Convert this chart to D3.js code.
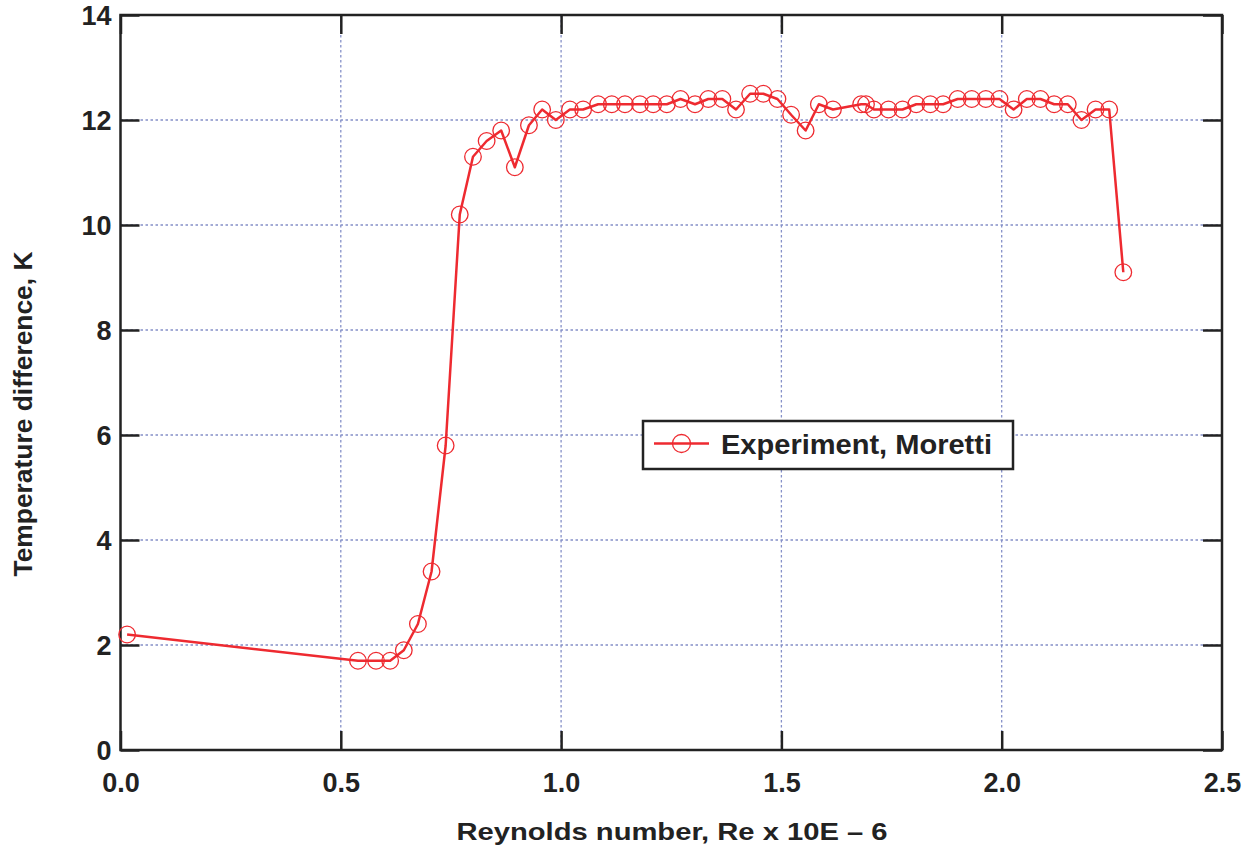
<!DOCTYPE html>
<html>
<head>
<meta charset="utf-8">
<script src="https://cdn.jsdelivr.net/npm/d3@7"></script>
<style>
  body { margin: 0; background: #fff; }
  text { font-family: "Liberation Sans", Arial, sans-serif; font-weight: bold; fill: #222; }
</style>
</head>
<body>
<div id="chart"></div>
<script>
// Reynolds number (x 10E-6) and measured temperature difference (K)
const reynolds = [0.015, 0.539, 0.580, 0.612, 0.643, 0.675, 0.706, 0.738, 0.770, 0.800,
  0.831, 0.864, 0.895, 0.927, 0.957, 0.988, 1.020, 1.050, 1.084, 1.115,
  1.145, 1.179, 1.209, 1.240, 1.271, 1.304, 1.334, 1.366, 1.397, 1.429,
  1.459, 1.491, 1.522, 1.555, 1.585, 1.617, 1.681, 1.692, 1.710, 1.743,
  1.775, 1.806, 1.838, 1.867, 1.900, 1.932, 1.964, 1.995, 2.027, 2.057,
  2.088, 2.119, 2.150, 2.181, 2.213, 2.244, 2.276];
const tempDiff = [2.2, 1.7, 1.7, 1.7, 1.9, 2.4, 3.4, 5.8, 10.2, 11.3,
  11.6, 11.8, 11.1, 11.9, 12.2, 12.0, 12.2, 12.2, 12.3, 12.3,
  12.3, 12.3, 12.3, 12.3, 12.4, 12.3, 12.4, 12.4, 12.2, 12.5,
  12.5, 12.4, 12.1, 11.8, 12.3, 12.2, 12.3, 12.3, 12.2, 12.2,
  12.2, 12.3, 12.3, 12.3, 12.4, 12.4, 12.4, 12.4, 12.2, 12.4,
  12.4, 12.3, 12.3, 12.0, 12.2, 12.2, 9.1];
const xTicks = [0, 0.5, 1.0, 1.5, 2.0, 2.5];
const yTicks = [0, 2, 4, 6, 8, 10, 12, 14];
const seriesName = "Experiment, Moretti";

const width = 1257, height = 857;
const margin = {left: 120.5, right: 35, top: 15, bottom: 107};
const red = "#ee2a30";

const svg = d3.select("#chart").append("svg")
  .attr("width", width)
  .attr("height", height);

const x = d3.scaleLinear().domain([0, 2.5]).range([margin.left, width - margin.right]);
const y = d3.scaleLinear().domain([0, 14]).range([height - margin.bottom, margin.top]);

const x0 = x.range()[0], x1 = x.range()[1], y0 = y.range()[0], y1 = y.range()[1];

// dotted grid
const grid = svg.append("g")
  .attr("stroke", "#8590c8")
  .attr("stroke-width", 1.3)
  .attr("stroke-dasharray", "2.5,2.5");
grid.selectAll(".gx").data(xTicks.slice(1, -1)).enter().append("line")
  .attr("x1", d => x(d)).attr("x2", d => x(d))
  .attr("y1", y1).attr("y2", y0);
grid.selectAll(".gy").data(yTicks.slice(1, -1)).enter().append("line")
  .attr("y1", d => y(d)).attr("y2", d => y(d))
  .attr("x1", x0).attr("x2", x1);

// frame + inward ticks
const tickLen = 19;
const axisColor = "#222";
svg.append("g")
  .attr("transform", `translate(0,${y0})`)
  .call(d3.axisBottom(x).tickValues(xTicks).tickSizeInner(-tickLen).tickSizeOuter(0)
    .tickFormat(d3.format(".1f")))
  .call(g => {
    g.select(".domain").remove();
    g.selectAll(".tick line").attr("stroke", axisColor).attr("stroke-width", 2.5);
    g.selectAll(".tick text").attr("font-size", 27).attr("dy", null).attr("y", 42)
      .attr("fill", axisColor);
  });
svg.append("g")
  .attr("transform", `translate(0,${y1})`)
  .call(d3.axisTop(x).tickValues(xTicks).tickSizeInner(-tickLen).tickSizeOuter(0).tickFormat(""))
  .call(g => {
    g.select(".domain").remove();
    g.selectAll(".tick line").attr("stroke", axisColor).attr("stroke-width", 2.5);
  });
svg.append("g")
  .attr("transform", `translate(${x0},0)`)
  .call(d3.axisLeft(y).tickValues(yTicks).tickSizeInner(-tickLen).tickSizeOuter(0)
    .tickFormat(d3.format("d")))
  .call(g => {
    g.select(".domain").remove();
    g.selectAll(".tick line").attr("stroke", axisColor).attr("stroke-width", 2.5);
    g.selectAll(".tick text").attr("font-size", 27).attr("x", -9).attr("dy", "0.36em")
      .attr("fill", axisColor);
  });
svg.append("g")
  .attr("transform", `translate(${x1},0)`)
  .call(d3.axisRight(y).tickValues(yTicks).tickSizeInner(-tickLen).tickSizeOuter(0).tickFormat(""))
  .call(g => {
    g.select(".domain").remove();
    g.selectAll(".tick line").attr("stroke", axisColor).attr("stroke-width", 2.5);
  });
svg.append("rect")
  .attr("x", x0).attr("y", y1)
  .attr("width", x1 - x0).attr("height", y0 - y1)
  .attr("fill", "none")
  .attr("stroke", axisColor)
  .attr("stroke-width", 2.5);

// data line and markers
const pts = reynolds.map((r, i) => [r, tempDiff[i]]);
const line = d3.line()
  .x(d => x(d[0]))
  .y(d => y(d[1]));

svg.append("path")
  .datum(pts)
  .attr("d", line)
  .attr("fill", "none")
  .attr("stroke", red)
  .attr("stroke-width", 2.5)
  .attr("stroke-linejoin", "round");

svg.append("g").selectAll("circle")
  .data(pts).enter().append("circle")
  .attr("cx", d => x(d[0]))
  .attr("cy", d => y(d[1]))
  .attr("r", 8.3)
  .attr("fill", "none")
  .attr("stroke", red)
  .attr("stroke-width", 1.3);

// legend
const legend = svg.append("g").attr("transform", "translate(643,421)");
legend.append("rect")
  .attr("width", 370).attr("height", 48)
  .attr("fill", "#fff")
  .attr("stroke", axisColor)
  .attr("stroke-width", 2.5);
legend.append("line")
  .attr("x1", 11).attr("x2", 66).attr("y1", 22.5).attr("y2", 22.5)
  .attr("stroke", red).attr("stroke-width", 2.5);
legend.append("circle")
  .attr("cx", 38.5).attr("cy", 22.5).attr("r", 9)
  .attr("fill", "none").attr("stroke", red).attr("stroke-width", 1.3);
legend.append("text")
  .attr("x", 78).attr("y", 33)
  .attr("font-size", 28)
  .attr("textLength", 271)
  .attr("lengthAdjust", "spacingAndGlyphs")
  .text(seriesName);

// axis titles
svg.append("text")
  .attr("x", 672).attr("y", 840)
  .attr("text-anchor", "middle")
  .attr("font-size", 24)
  .attr("textLength", 431)
  .attr("lengthAdjust", "spacingAndGlyphs")
  .text("Reynolds number, Re x 10E \u2013 6");

svg.append("text")
  .attr("transform", "translate(32,414) rotate(-90)")
  .attr("text-anchor", "middle")
  .attr("font-size", 25)
  .attr("textLength", 325)
  .attr("lengthAdjust", "spacingAndGlyphs")
  .text("Temperature difference,  K");
</script>
</body>
</html>
